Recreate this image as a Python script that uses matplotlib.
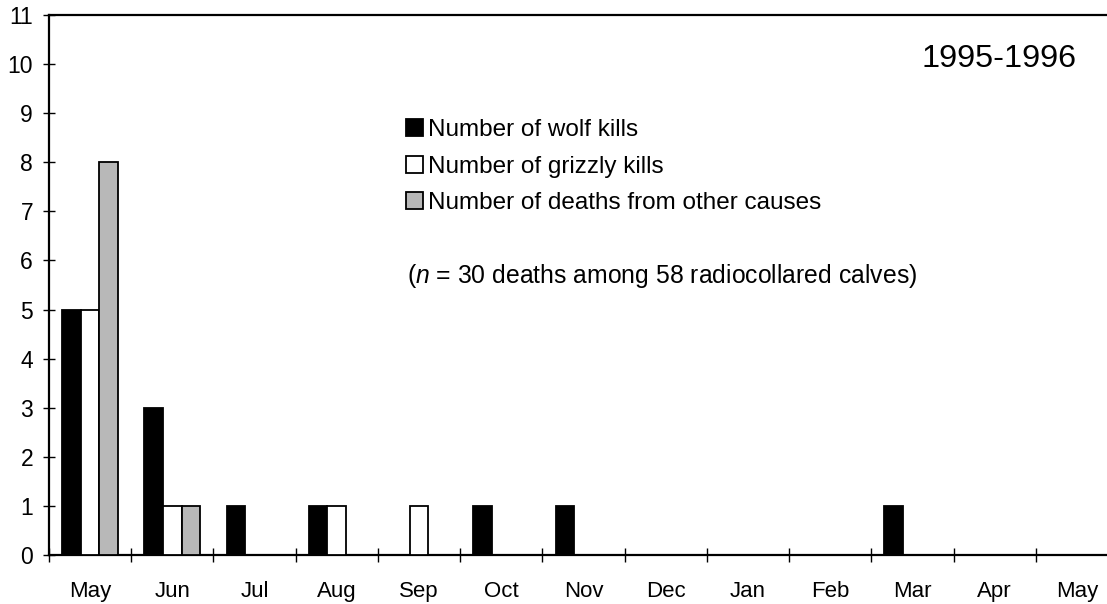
import matplotlib
matplotlib.use("Agg")
import matplotlib.pyplot as plt
from matplotlib.patches import Patch
import numpy as np

months = ["May", "Jun", "Jul", "Aug", "Sep", "Oct", "Nov", "Dec", "Jan", "Feb", "Mar", "Apr", "May"]
wolf = [5, 3, 1, 1, 0, 1, 1, 0, 0, 0, 1, 0, 0]
grizzly = [5, 1, 0, 1, 1, 0, 0, 0, 0, 0, 0, 0, 0]
other = [8, 1, 0, 0, 0, 0, 0, 0, 0, 0, 0, 0, 0]
series_labels = ["Number of wolf kills", "Number of grizzly kills", "Number of deaths from other causes"]
series_colors = ["#000000", "#ffffff", "#b8b8b8"]
yticks = list(range(0, 12))

plt.rcParams['font.family'] = ['Liberation Sans', 'DejaVu Sans']
plt.rcParams['mathtext.fontset'] = 'custom'
plt.rcParams['mathtext.rm'] = 'Liberation Sans'
plt.rcParams['mathtext.it'] = 'Liberation Sans:italic'

W, H = 1107, 604
fig = plt.figure(figsize=(W / 100, H / 100), dpi=100)
ax_l, ax_t, ax_r, ax_b = 49, 15, 1118, 555
ax = fig.add_axes([ax_l / W, 1 - ax_b / H, (ax_r - ax_l) / W, (ax_b - ax_t) / H])


def axx(px):
    return (px - ax_l) / (ax_r - ax_l)


def axy(py):
    return (ax_b - py) / (ax_b - ax_t)


x = np.arange(len(months))
w = 0.227
for i, (vals, col) in enumerate(zip([wolf, grizzly, other], series_colors)):
    xs = x + (i - 1) * w
    v = np.array(vals)
    mask = v > 0
    ax.bar(xs[mask], v[mask], width=w, color=col, edgecolor="black",
           linewidth=1.3, zorder=3)

ax.set_xlim(-0.5, len(months) - 0.5)
ax.set_ylim(0, 11)
ax.set_yticks(yticks)
ax.set_xticks(x)
ax.set_xticklabels(months)
ax.set_xticks(np.arange(-0.5, len(months), 1), minor=True)

ax.tick_params(axis='x', which='major', length=0, pad=18.5, labelsize=16)
ax.tick_params(axis='x', which='minor', direction='inout', length=10, width=1)
ax.tick_params(axis='y', direction='inout', length=9, width=1, pad=7, labelsize=16.5)

for s in ['left', 'bottom', 'top']:
    ax.spines[s].set_linewidth(1.6)
ax.spines['right'].set_visible(False)

handles = [Patch(facecolor=c, edgecolor='black', linewidth=1.3) for c in series_colors]
leg = ax.legend(handles, series_labels, loc='upper left', bbox_to_anchor=(axx(406), axy(119)),
                frameon=False, fontsize=17.5, handlelength=0.7, handleheight=0.7,
                handletextpad=0.2, labelspacing=0.6, borderaxespad=0, borderpad=0)

ax.text(axx(407), axy(276), r"($\it{n}$ = 30 deaths among 58 radiocollared calves)",
        transform=ax.transAxes, fontsize=17.85, ha='left', va='center')
ax.text(axx(1077), axy(59), "1995-1996", transform=ax.transAxes,
        fontsize=23.3, ha='right', va='center')

fig.savefig("out.png", dpi=100)
